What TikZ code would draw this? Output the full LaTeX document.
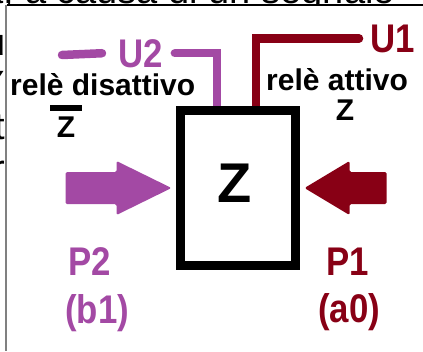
\documentclass[tikz,border=0pt]{standalone}
\usepackage{fontspec}
\setmainfont{Liberation Sans}
\newfontfamily\tallfont[FakeStretch=0.87]{Liberation Sans}
\usetikzlibrary{positioning, backgrounds}

\definecolor{paintpurple}{RGB}{163,73,164}
\definecolor{paintred}{RGB}{136,0,21}
\newcommand{\notZ}{\vbox{\hrule height 6pt width 32pt\kern 5pt\hbox to 32pt{\hss Z\hss}}}

\begin{document}
\begin{tikzpicture}[
    x=1pt, y=-1pt,
    relay/.style={rectangle, draw=black, line width=9pt, minimum width=115pt, minimum height=155pt, inner sep=0pt},
    wire/.style={line width=8.5pt, line cap=round},
    push/.style={rounded corners=1.5pt},
    note/.style={font=\fontsize{30}{36}\selectfont\bfseries, inner sep=0pt, anchor=base west},
    port/.style={font=\tallfont\fontsize{40}{48}\selectfont\bfseries, inner sep=0pt, anchor=base west},
    backtext/.style={font=\fontsize{38}{44}\selectfont, inner sep=0pt, anchor=base east}
]
\useasboundingbox (0,0) rectangle (423,351);

% === WINDOW BEHIND ===
\begin{scope}
  \clip (0,0) rectangle (423,4);
  \node (bgtop) [backtext] at (395,3) {a, a causa di un segnale};
\end{scope}
\begin{scope}
  \clip (0,5) rectangle (5.5,351);
  \foreach \ch [count=\i] in {u,Y,t,r}
    \node (bgleft\i) [backtext] at (5.5,13+42*\i) {\ch};
\end{scope}
\draw [line width=2pt] (7,5) -- (423,5);
\draw [gray, line width=1.5pt] (6,5) -- (6,351);

% === RELAY ===
\node (zbox) [relay] at (238,188) {};
\node (zmark) [font=\fontsize{56}{60}\selectfont\bfseries, inner sep=0pt] at ([xshift=-3pt, yshift=5pt]zbox.center) {Z};

% === OUTPUTS ===
\node (u2) [port, text=paintpurple] at (118,67) {U2};
\node (u1) [port, text=paintred] at (370,52) {U1};
\node (off) [note] at (10,95) {relè disattivo};
\node (offz) [note, anchor=base] at (66,137) {\notZ};
\node (on) [note] at (266,90) {relè attivo};
\node (onz) [note, anchor=base] at (345,120) {Z};

% === INPUTS ===
\coordinate (p2tip) at ([xshift=-4.5pt]zbox.west);
\coordinate (p1tip) at ([xshift=4.5pt]zbox.east);
\fill [push, paintpurple] (p2tip) -- ++(-55,-27) -- ++(0,11) -- ++(-51,0)
  -- ++(0,32) -- ++(51,0) -- ++(0,11) -- cycle;
\fill [push, paintred] (p1tip) -- ++(45,-27) -- ++(0,11) -- ++(37,0)
  -- ++(0,32) -- ++(-37,0) -- ++(0,11) -- cycle;
\node (p2) [port, text=paintpurple] at (68,275) {P2};
\node (p2code) [port, text=paintpurple] at ([xshift=-3pt, yshift=-48pt]p2.base west) {(b1)};
\node (p1) [port, text=paintred] at (326,275) {P1};
\node (p1code) [port, text=paintred] at ([xshift=-8pt, yshift=-47pt]p1.base west) {(a0)};

% === WIRES ===
\coordinate (u2tail) at (62,55);
\begin{pgfonlayer}{background}
  \draw [wire, paintred] ([xshift=18pt]zbox.north) |- ([xshift=-11pt]u1.west);
  \draw [wire, paintpurple] ([xshift=-21pt]zbox.north) |- ([xshift=12pt]u2.east);
  \draw [wire, paintpurple] (u2tail) -- ([xshift=-16pt]u2.west);
\end{pgfonlayer}

\end{tikzpicture}
\end{document}
